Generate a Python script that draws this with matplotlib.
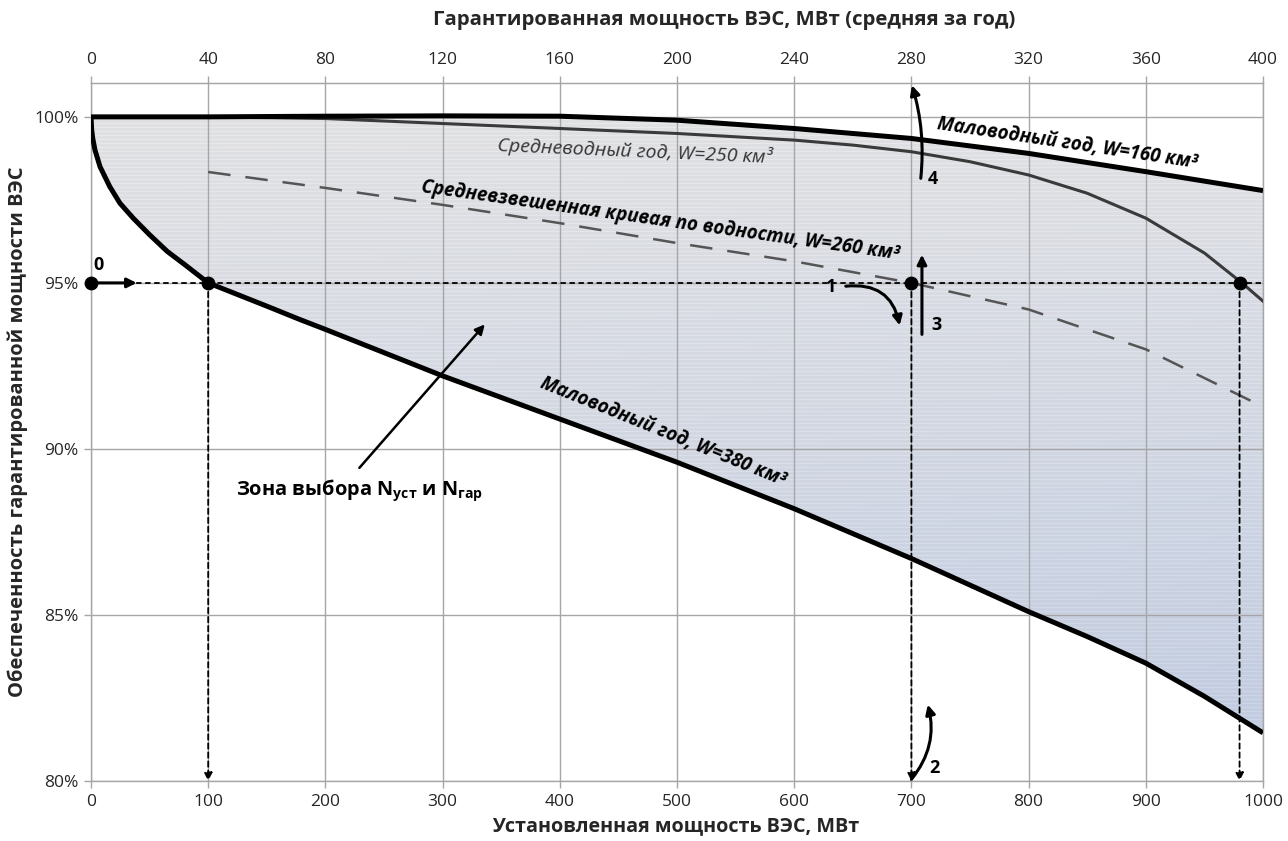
import numpy as np
import matplotlib
matplotlib.use("Agg")
import matplotlib.pyplot as plt
from matplotlib.patches import Polygon
from matplotlib.ticker import FuncFormatter

plt.rcParams['font.family'] = ['Open Sans', 'DejaVu Sans']
plt.rcParams['mathtext.default'] = 'regular'

# ---------------- data ----------------
# Lower boundary: Маловодный год, W=380 км3
low_x = [0, 0.6, 1.5, 3.4, 7.7, 16, 24.7, 36, 50, 65, 80, 100, 150, 178, 200, 250, 300, 400, 500, 600, 700, 800, 850, 900, 950, 1000]
low_y = [100, 99.6, 99.35, 99.0, 98.5, 97.9, 97.4, 96.95, 96.45, 95.95, 95.55, 95.0, 94.3, 93.9, 93.6, 92.9, 92.2, 90.9, 89.6, 88.2, 86.7, 85.1, 84.35, 83.55, 82.55, 81.45]
# Upper boundary: Маловодный год, W=160 км3
up_x = [0, 100, 200, 300, 400, 500, 600, 700, 800, 900, 1000]
up_y = [100, 100.0, 100.02, 100.03, 100.02, 99.9, 99.65, 99.35, 98.9, 98.35, 97.78]
# Средневодный год, W=250 км3
mid_x = [0, 100, 200, 300, 400, 500, 600, 650, 700, 750, 800, 850, 900, 950, 982, 1000]
mid_y = [100, 100.0, 99.95, 99.8, 99.65, 99.5, 99.3, 99.15, 98.95, 98.65, 98.25, 97.7, 96.95, 95.9, 95.0, 94.45]
# Средневзвешенная кривая по водности, W=260 км3
avg_x = [100, 200, 300, 400, 500, 600, 700, 800, 900, 1000]
avg_y = [98.34, 97.86, 97.35, 96.8, 96.2, 95.65, 95.0, 94.2, 93.0, 91.27]

# Guaranteed-probability selection points (95%)
sel_x = [0, 100, 700, 980]
sel_y = [95, 95, 95, 95]

x_ticks = [0, 100, 200, 300, 400, 500, 600, 700, 800, 900, 1000]
y_ticks = [80, 85, 90, 95, 100]
top_ticks = [0, 40, 80, 120, 160, 200, 240, 280, 320, 360, 400]
ratio_top = 0.4

# ---------------- figure ----------------
W, H = 1288, 841
fig = plt.figure(figsize=(W/100, H/100), dpi=100)
ax = fig.add_axes([91/W, 1-781/H, (1263-91)/W, (781-83)/H])
ax.set_xlim(0, 1000)
ax.set_ylim(80, 101.02)

grid_c = '#a6a6a6'
txt_c = '#262626'
for s in ax.spines.values():
    s.set_color(grid_c)
    s.set_linewidth(1.0)
ax.set_xticks(x_ticks)
ax.set_yticks(y_ticks)
ax.yaxis.set_major_formatter(FuncFormatter(lambda v, p: f"{v:.0f}%"))
ax.grid(True, color=grid_c, linewidth=1.0, zorder=0)
ax.tick_params(axis='both', colors=grid_c, labelcolor=txt_c, labelsize=12.5, length=5, width=1, direction='out')
ax.tick_params(axis='x', pad=4)
ax.tick_params(axis='y', pad=4)

secax = ax.secondary_xaxis('top', functions=(lambda v: v*ratio_top, lambda v: v/ratio_top))
secax.set_xticks(top_ticks)
secax.tick_params(colors=grid_c, labelcolor=txt_c, labelsize=12.5, length=5, width=1, pad=6)
secax.spines['top'].set_color(grid_c)

fig.text(724/W, 1-20/H, 'Гарантированная мощность ВЭС, МВт (средняя за год)', fontsize=14.7,
         fontweight='bold', color=txt_c, ha='center', va='center')
fig.text(676/W, 1-826/H, 'Установленная мощность ВЭС, МВт', fontsize=14.2,
         fontweight='bold', color=txt_c, ha='center', va='center')
fig.text(18/W, 1-432/H, 'Обеспеченность гарантированной мощности ВЭС', fontsize=14.5,
         fontweight='bold', color=txt_c, ha='center', va='center', rotation=90)

# ---------------- gradient fill ----------------
poly_xy = np.column_stack([np.concatenate([up_x, low_x[::-1]]), np.concatenate([up_y, low_y[::-1]])])
poly = Polygon(poly_xy, closed=True, transform=ax.transData, facecolor='none', edgecolor='none')
ax.add_patch(poly)
nrow, ncol = 698, 200
t = np.linspace(0, 1, nrow)[:, None]          # 0 at top, 1 at bottom
u = np.linspace(0, 1, ncol)[None, :]
top_c = np.array([0.885, 0.885, 0.89])
bot_c = np.array([0.76, 0.80, 0.88])
mix = np.clip(0.8*t + 0.25*u*t, 0, 1)[..., None]
img = top_c*(1-mix) + bot_c*mix
stripe = (np.arange(nrow) % 4 == 0)[:, None, None]
img = np.where(stripe, np.clip(img + 0.035, 0, 1), img)
im = ax.imshow(img, extent=[0, 1000, 80, 101.02], aspect='auto', origin='upper',
               interpolation='nearest', zorder=1)
im.set_clip_path(poly)

# ---------------- curves ----------------
ax.plot(low_x, low_y, color='black', lw=3.6, solid_capstyle='butt', solid_joinstyle='round', zorder=5)
ax.plot(up_x, up_y, color='black', lw=3.6, solid_capstyle='butt', solid_joinstyle='round', zorder=5)
ax.plot(mid_x, mid_y, color='#3a3a3a', lw=2.2, solid_joinstyle='round', zorder=4)
ax.plot(avg_x, avg_y, color='#555555', lw=1.8, dashes=(9, 6), zorder=4)

# ---------------- guide lines ----------------
ax.plot([0, 1000], [95, 95], color='black', lw=1.3, dashes=(3, 2), zorder=6)
for xv in sel_x[1:]:
    ax.annotate('', xy=(xv, 80), xytext=(xv, 95),
                arrowprops=dict(arrowstyle='-|>', color='black', lw=1.3, linestyle=(0, (3, 2)),
                                mutation_scale=12, shrinkA=0, shrinkB=0), zorder=6)
ax.scatter(sel_x, sel_y, s=80, color='black', zorder=8, clip_on=False)

arrow_kw = dict(arrowstyle='-|>', color='black', lw=2.2, mutation_scale=14, shrinkA=0, shrinkB=0)
num_kw = dict(fontsize=13, fontweight='bold', color='black', va='center', zorder=9)
# 0
ax.annotate('', xy=(39, 95), xytext=(0, 95), arrowprops=arrow_kw, zorder=9)
ax.text(6, 95.55, '0', ha='center', **num_kw)
# 1
ax.annotate('', xy=(690, 93.72), xytext=(644, 94.9),
            arrowprops=dict(arrow_kw, connectionstyle='arc3,rad=-0.45'), zorder=9)
ax.text(636, 94.88, '1', ha='right', **num_kw)
# 3
ax.annotate('', xy=(709, 95.85), xytext=(709, 93.45), arrowprops=arrow_kw, zorder=9)
ax.text(721, 93.72, '3', ha='center', **num_kw)
# 4
ax.annotate('', xy=(700.5, 100.95), xytext=(708, 98.15),
            arrowprops=dict(arrow_kw, connectionstyle='arc3,rad=0.1'), clip_on=False, zorder=9)
ax.text(718, 98.13, '4', ha='center', **num_kw)
# 2
ax.annotate('', xy=(714, 82.3), xytext=(700, 80.05),
            arrowprops=dict(arrow_kw, connectionstyle='arc3,rad=0.25'), zorder=9)
ax.text(720, 80.38, '2', ha='center', **num_kw)

# zone pointer
ax.annotate('', xy=(336, 93.75), xytext=(229, 89.43),
            arrowprops=dict(arrowstyle='-|>', color='black', lw=1.8, mutation_scale=14, shrinkA=0, shrinkB=0), zorder=9)
ax.text(124, 88.75, 'Зона выбора N$_{уст}$ и N$_{гар}$', fontsize=14.4, fontweight='bold',
        ha='left', va='center', color='black', zorder=9)

# ---------------- curve labels ----------------
ax.text(833, 99.2, 'Маловодный год, W=160 км³', fontsize=13.5, fontweight='bold', style='italic',
        rotation=-8.5, rotation_mode='anchor', ha='center', va='center', zorder=9)
ax.text(464, 98.97, 'Средневодный год, W=250 км³', fontsize=14, style='italic', color='#333333',
        rotation=-2.5, rotation_mode='anchor', ha='center', va='center', zorder=9)
ax.text(486, 96.87, 'Средневзвешенная кривая по водности, W=260 км³', fontsize=13.5, fontweight='bold',
        style='italic', rotation=-8, rotation_mode='anchor', ha='center', va='center', zorder=9)
ax.text(488, 90.5, 'Маловодный год, W=380 км³', fontsize=13.5, fontweight='bold', style='italic',
        rotation=-22, rotation_mode='anchor', ha='center', va='center', zorder=9)

fig.savefig('out.png', dpi=100)
